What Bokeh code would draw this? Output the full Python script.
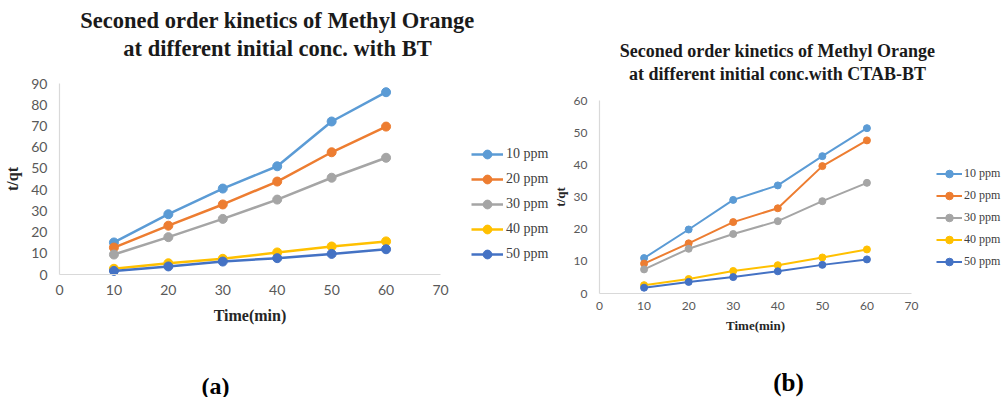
from bokeh.plotting import figure
from bokeh.layouts import row
from bokeh.models import Range1d, Label, Legend, LegendItem, FixedTicker
from bokeh.embed import file_html
from bokeh.resources import INLINE

# ---------------- data ----------------
time_min = [10, 20, 30, 40, 50, 60]
series_names = ["10 ppm", "20 ppm", "30 ppm", "40 ppm", "50 ppm"]
colors = ["#5B9BD5", "#ED7D31", "#A5A5A5", "#FFC000", "#4472C4"]

# (a) BT
bt_10 = [15.1, 28.4, 40.5, 51.0, 72.1, 85.9]
bt_20 = [12.7, 23.0, 33.0, 43.8, 57.6, 69.7]
bt_30 = [9.4, 17.6, 26.2, 35.3, 45.6, 55.0]
bt_40 = [2.7, 5.3, 7.4, 10.4, 13.2, 15.6]
bt_50 = [1.7, 3.8, 6.1, 7.7, 9.7, 11.9]

# (b) CTAB-BT
ct_10 = [11.0, 19.9, 29.1, 33.6, 42.7, 51.4]
ct_20 = [9.3, 15.6, 22.2, 26.5, 39.6, 47.6]
ct_30 = [7.5, 13.9, 18.5, 22.5, 28.7, 34.4]
ct_40 = [2.6, 4.5, 7.0, 8.8, 11.2, 13.7]
ct_50 = [1.8, 3.6, 5.1, 6.9, 8.9, 10.6]

x_ticks = [0, 10, 20, 30, 40, 50, 60, 70]
y_ticks_a = [0, 10, 20, 30, 40, 50, 60, 70, 80, 90]
y_ticks_b = [0, 10, 20, 30, 40, 50, 60]

title_a = ["Seconed order kinetics of Methyl Orange", "at different initial conc. with BT"]
title_b = ["Seconed order kinetics of Methyl Orange", "at different initial conc.with CTAB-BT"]

SERIF = "Liberation Serif"
TICK_FONT = "Lato"


def make_panel(width, height, xmax, ymax, yticks, series, plot_box, lw, ms,
               tick_size, label_size, xstand, ystand, xlab_stand, ylab_stand,
               leg_loc, leg_font, leg_gh, leg_gw, leg_sp, leg_st,
               titles, title_size, title_xy, title_dy,
               tag, tag_size, tag_xy):
    # plot_box: pixel position (in this figure) of the axes' origin and far ends
    left, right, top, bottom = plot_box
    sx = (right - left) / xmax
    sy = (bottom - top) / ymax
    xr = Range1d(-left / sx, (width - left) / sx)
    yr = Range1d(-(height - bottom) / sy, bottom / sy)
    p = figure(width=width, height=height, output_backend="svg", toolbar_location=None,
               x_range=xr, y_range=yr, title_location=None,
               min_border=0, min_border_left=0, min_border_right=0,
               min_border_top=0, min_border_bottom=0)

    p.xaxis.ticker = FixedTicker(ticks=x_ticks)
    p.yaxis.ticker = FixedTicker(ticks=yticks)
    p.xaxis.axis_label = "Time(min)"
    p.yaxis.axis_label = "t/qt"
    p.xaxis.fixed_location = 0
    p.yaxis.fixed_location = 0
    p.xaxis.bounds = (0, xmax)
    p.yaxis.bounds = (0, ymax)
    for ax in (p.xaxis[0], p.yaxis[0]):
        ax.axis_line_color = "#d9d9d9"
        ax.axis_line_width = 1.2
        ax.major_tick_line_color = None
        ax.minor_tick_line_color = None
        ax.major_tick_in = 0
        ax.major_tick_out = 0
        ax.minor_tick_in = 0
        ax.minor_tick_out = 0
        ax.major_label_text_font = TICK_FONT
        ax.major_label_text_font_size = tick_size
        ax.major_label_text_color = "#595959"
        ax.axis_label_text_font = SERIF
        ax.axis_label_text_font_style = "bold"
        ax.axis_label_text_font_size = label_size
        ax.axis_label_text_color = "#262626"
    p.xaxis[0].major_label_standoff = xstand
    p.yaxis[0].major_label_standoff = ystand
    p.xaxis[0].axis_label_standoff = xlab_stand
    p.yaxis[0].axis_label_standoff = ylab_stand
    p.xgrid.visible = False
    p.ygrid.visible = False
    p.outline_line_color = None

    items = []
    for name, col, ys in zip(series_names, colors, series):
        r1 = p.line(time_min, ys, line_color=col, line_width=lw)
        r2 = p.scatter(time_min, ys, marker="circle", size=ms, fill_color=col, line_color=col)
        items.append(LegendItem(label=name, renderers=[r1, r2]))
    leg = Legend(items=items, location=leg_loc, border_line_color=None,
                 background_fill_alpha=0, label_text_font=SERIF,
                 label_text_font_size=leg_font, label_text_color="#404040",
                 glyph_height=leg_gh, label_height=leg_gh, glyph_width=leg_gw,
                 spacing=leg_sp, label_standoff=leg_st, padding=0, margin=0)
    p.add_layout(leg, "center")

    tx, ty = title_xy
    for i, t in enumerate(titles):
        p.add_layout(Label(x=tx, y=height - (ty + i * title_dy), x_units="screen", y_units="screen",
                           text=t, text_align="center", text_baseline="middle",
                           text_font=SERIF, text_font_style="bold",
                           text_font_size=title_size, text_color="#1a1a1a"))
    gx, gy = tag_xy
    p.add_layout(Label(x=gx, y=height - gy, x_units="screen", y_units="screen",
                       text=tag, text_align="center", text_baseline="middle",
                       text_font=SERIF, text_font_style="bold",
                       text_font_size=tag_size, text_color="#000000"))
    return p


H = 397
pa = make_panel(552, H, 70, 90, y_ticks_a, [bt_10, bt_20, bt_30, bt_40, bt_50],
                (59, 440, 83, 274), 2.5, 9,
                "14px", "16px", 10, 12, 9, 7,
                (471, H - 265), "14px", 22, 32, 3, 3,
                title_a, "22.5px", (277, 20), 28,
                "(a)", "24px", (215, 385))

pb = make_panel(449, H, 70, 60, y_ticks_b, [ct_10, ct_20, ct_30, ct_40, ct_50],
                (47, 359, 100, 293), 2, 7,
                "12px", "13px", 8, 12, 5, 3,
                (384, H - 271), "12px", 19, 26, 3, 2,
                title_b, "18px", (225, 50), 23,
                "(b)", "25px", (236, 382))

layout = row(pa, pb)
open("out.html", "w").write(file_html(layout, INLINE))
